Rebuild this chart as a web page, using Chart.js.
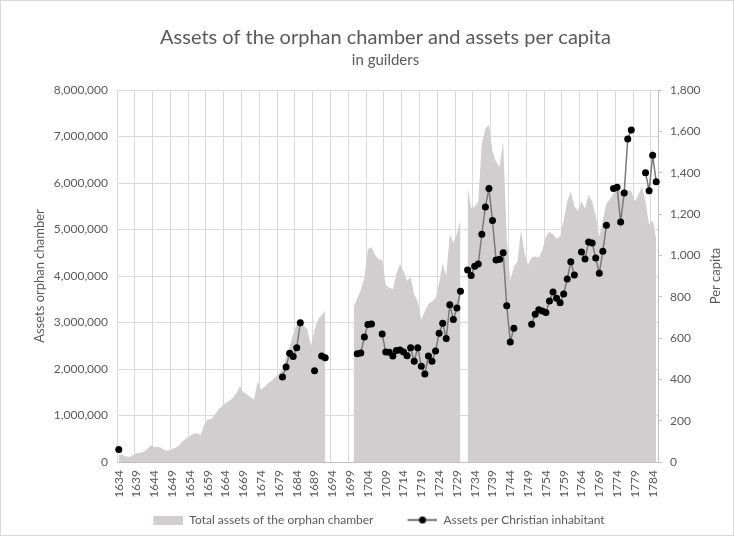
<!DOCTYPE html>
<html>
<head>
<meta charset="utf-8">
<script src="https://cdn.jsdelivr.net/npm/chart.js@4.4.0/dist/chart.umd.min.js"></script>
<style>
  html, body { margin: 0; padding: 0; background: #fff; }
  #wrap { width: 734px; height: 536px; position: relative; }
</style>
</head>
<body>
<div id="wrap"><canvas id="chart"></canvas></div>
<script>
// texts
const titleText = 'Assets of the orphan chamber and assets per capita';
const subtitleText = 'in guilders';
const leftAxisTitle = 'Assets orphan chamber';
const rightAxisTitle = 'Per capita';
const areaLabel = 'Total assets of the orphan chamber';
const lineLabel = 'Assets per Christian inhabitant';

// categories: every year 1634 - 1785
const years = Array.from({ length: 152 }, (_, i) => 1634 + i);

// total assets (guilders), one row per decade
const totalAssets = [
  160000, 150000, 120000, 110000, 150000, 190000,                                    // 1634-1639
  200000, 220000, 280000, 360000, 320000, 330000, 300000, 240000, 250000, 280000,     // 1640s
  310000, 360000, 450000, 510000, 560000, 610000, 620000, 580000, 800000, 920000,     // 1650s
  920000, 1020000, 1130000, 1200000, 1270000, 1310000, 1370000, 1480000, 1630000, 1500000, // 1660s
  1450000, 1400000, 1340000, 1730000, 1560000, 1620000, 1700000, 1750000, 1830000, 1900000, // 1670s
  2000000, 2250000, 2470000, 2760000, 2950000, 3020000, 2930000, 2850000, 2500000, 2840000, // 1680s
  3070000, 3160000, 3250000, null, null, null, null, null, null, null,                // 1690s
  3330000, 3520000, 3700000, 3950000, 4580000, 4620000, 4450000, 4360000, 4350000, 3800000, // 1700s
  3750000, 3720000, 4050000, 4260000, 4100000, 3900000, 3980000, 3600000, 3450000, 3060000, // 1710s
  3250000, 3400000, 3450000, 3520000, 3850000, 4270000, 4000000, 4900000, 4720000, 4900000, // 1720s
  5200000, null, 5920000, 5460000, 5490000, 5600000, 6850000, 7160000, 7260000, 6670000,   // 1730s
  6460000, 6350000, 6890000, 4800000, 3910000, 4200000, 4300000, 4990000, 4490000, 4240000, // 1740s
  4400000, 4420000, 4400000, 4560000, 4850000, 4950000, 4900000, 4800000, 4850000, 5200000, // 1750s
  5600000, 5820000, 5500000, 5400000, 5600000, 5450000, 5740000, 5600000, 5300000, 4850000, // 1760s
  5200000, 5560000, 5650000, 5780000, 5850000, 5820000, 5850000, 5850000, 5820000, 5600000, // 1770s
  5750000, 5920000, 5600000, 5100000, 5200000, 4800000                                // 1780-1785
];

// assets per Christian inhabitant (guilders)
const perCapita = [
  60, null, null, null, null, null,                                   // 1634-1639
  null, null, null, null, null, null, null, null, null, null,         // 1640s
  null, null, null, null, null, null, null, null, null, null,         // 1650s
  null, null, null, null, null, null, null, null, null, null,         // 1660s
  null, null, null, null, null, null, null, null, null, null,         // 1670s
  411, 460, 526, 511, 553, 674, null, null, null, 442,                // 1680s
  null, 513, 505, null, null, null, null, null, null, null,           // 1690s
  null, 524, 527, 605, 665, 668, null, null, 619, 532,                // 1700s
  531, 513, 539, 542, 532, 514, 553, 487, 553, 463,                   // 1710s
  426, 513, 487, 537, 623, 671, 597, 761, 690, 745,                   // 1720s
  826, null, 929, 902, 947, 958, 1102, 1234, 1323, 1168,              // 1730s
  977, 981, 1013, 756, 581, 647, null, null, null, null,              // 1740s
  666, 715, 737, 731, 723, 779, 823, 792, 771, 813,                   // 1750s
  886, 969, 905, null, 1016, 982, 1065, 1060, 987, 913,               // 1760s
  1020, 1145, null, 1323, 1330, 1161, 1302, 1563, 1607, null,         // 1770s
  null, null, 1400, 1313, 1484, 1356                                  // 1780-1785
];

// axis ranges
const leftMax = 8000000, leftStep = 1000000;
const rightMax = 1800, rightStep = 200;

const areaColor = '#d0cece';
const lineColor = '#7a7a7a';
const textColor = '#595959';
const gridColor = '#d9d9d9';
const axisColor = '#bfbfbf';
const fontFamily = 'Lato, "Liberation Sans", sans-serif';

Chart.defaults.font.family = fontFamily;
Chart.defaults.font.size = 12;
Chart.defaults.color = textColor;

// legend swatches (drawn right-aligned, transparent margin on the left)
function makeSwatch(w, h, draw) {
  const c = document.createElement('canvas');
  c.width = w; c.height = h;
  draw(c.getContext('2d'));
  return c;
}
const areaSwatch = makeSwatch(54, 9, g => { g.fillStyle = areaColor; g.fillRect(24, 0, 30, 9); });
const lineSwatch = makeSwatch(54, 9, g => {
  g.strokeStyle = '#404040'; g.lineWidth = 1.5;
  g.beginPath(); g.moveTo(24, 4.5); g.lineTo(54, 4.5); g.stroke();
  g.fillStyle = '#000'; g.beginPath(); g.arc(39, 4.5, 3.5, 0, Math.PI * 2); g.fill();
});

// title, right axis title and outer border
const extras = {
  id: 'extras',
  afterDraw(chart) {
    const { ctx, chartArea } = chart;
    const cx = (chartArea.left + chartArea.right) / 2;
    ctx.save();
    ctx.fillStyle = textColor;
    ctx.textAlign = 'center';
    ctx.textBaseline = 'middle';
    ctx.font = '20px ' + fontFamily;
    ctx.fillText(titleText, cx - 2, 38);
    ctx.font = '15px ' + fontFamily;
    ctx.fillText(subtitleText, cx - 2, 60);
    ctx.translate(chartArea.right + 58, (chartArea.top + chartArea.bottom) / 2);
    ctx.rotate(-Math.PI / 2);
    ctx.font = '13px ' + fontFamily;
    ctx.fillText(rightAxisTitle, 0, 0);
    ctx.restore();
    ctx.save();
    ctx.strokeStyle = gridColor;
    ctx.strokeRect(0.5, 0.5, chart.width - 1, chart.height - 1);
    ctx.restore();
  }
};

new Chart(document.getElementById('chart'), {
  type: 'line',
  data: {
    labels: years,
    datasets: [
      {
        label: areaLabel,
        data: totalAssets,
        yAxisID: 'y',
        fill: 'origin',
        backgroundColor: areaColor,
        borderColor: 'transparent',
        borderWidth: 0,
        pointRadius: 0,
        tension: 0,
        spanGaps: false,
        order: 1
      },
      {
        label: lineLabel,
        data: perCapita,
        yAxisID: 'y1',
        fill: false,
        borderColor: lineColor,
        borderWidth: 1.5,
        pointRadius: 3.5,
        pointBackgroundColor: '#000',
        pointBorderWidth: 0,
        tension: 0,
        spanGaps: false,
        clip: 6,
        order: 0
      }
    ]
  },
  options: {
    responsive: true,
    maintainAspectRatio: false,
    animation: false,
    layout: { padding: { top: 90, left: 0, right: 0, bottom: 0 } },
    plugins: {
      legend: {
        position: 'bottom',
        labels: {
          usePointStyle: true,
          pointStyleWidth: 54,
          padding: 10,
          color: textColor,
          font: { size: 12 },
          sort: (a, b) => a.datasetIndex - b.datasetIndex,
          generateLabels: chart => Chart.defaults.plugins.legend.labels.generateLabels(chart)
            .map(item => ({ ...item, pointStyle: item.datasetIndex === 0 ? areaSwatch : lineSwatch }))
        }
      },
      tooltip: { enabled: false }
    },
    scales: {
      x: {
        type: 'category',
        offset: true,
        grid: {
          offset: true,
          drawTicks: false,
          color: ctx => (ctx.index % 5 === 0 ? gridColor : 'transparent')
        },
        border: { color: axisColor },
        ticks: {
          autoSkip: false,
          minRotation: 90,
          maxRotation: 90,
          padding: 8,
          callback: (v, i) => (i % 5 === 0 ? String(years[i]) : '')
        },
        afterFit: s => { s.height = 42; }
      },
      y: {
        position: 'left',
        min: 0,
        max: leftMax,
        grid: { color: gridColor, drawTicks: false },
        border: { display: false },
        ticks: {
          stepSize: leftStep,
          padding: 9,
          callback: v => v.toLocaleString('en-US')
        },
        title: {
          display: true,
          text: leftAxisTitle,
          color: textColor,
          font: { size: 13 },
          padding: { top: 32, bottom: 0 }
        },
        afterFit: s => { s.width = 117; }
      },
      y1: {
        position: 'right',
        min: 0,
        max: rightMax,
        grid: { drawOnChartArea: false, color: axisColor, tickLength: 4 },
        border: { color: axisColor },
        ticks: {
          stepSize: rightStep,
          padding: 8,
          callback: v => v.toLocaleString('en-US')
        },
        afterFit: s => { s.width = 76; }
      }
    }
  },
  plugins: [extras]
});
</script>
</body>
</html>
